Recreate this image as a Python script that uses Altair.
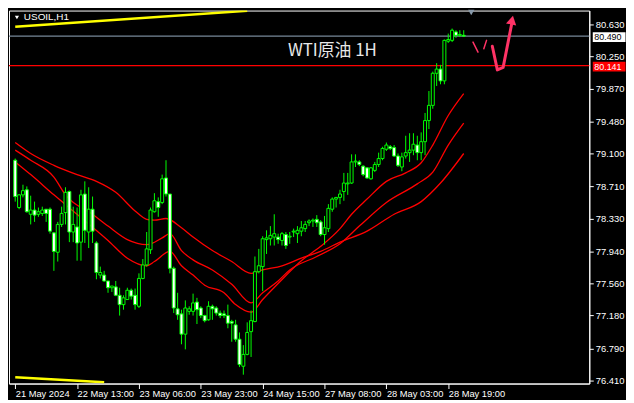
import altair as alt
import pandas as pd

# ---------------- data ----------------
OPEN = [79.02,78.46,78.61,78.67,78.38,78.43,78.38,78.39,78.44,78.44,
        78.16,77.93,78.26,78.40,78.65,78.17,78.23,78.05,78.62,78.17,
        78.44,78.04,77.66,77.66,77.59,77.51,77.52,77.42,77.31,77.37,
        77.48,77.42,77.29,77.62,77.78,77.96,78.41,78.53,78.52,78.81,
        78.62,77.74,77.26,77.20,76.96,77.23,77.23,77.34,77.27,77.18,
        77.13,77.29,77.27,77.21,77.20,77.18,77.11,77.07,76.90,76.58,
        76.72,76.99,77.11,77.70,77.76,78.08,78.09,78.11,78.11,78.07,
        78.14,78.11,78.17,78.15,78.18,78.21,78.28,78.30,78.32,78.29,
        78.14,78.21,78.44,78.56,78.58,78.65,78.74,78.75,79.00,79.00,
        78.95,78.93,78.80,78.90,78.97,79.04,79.15,79.18,79.17,79.07,
        78.94,79.07,79.11,79.14,79.20,79.11,79.24,79.49,79.67,80.05,
        80.10,79.96,80.43,80.44,80.54,80.50,80.50]
CLOSE = [78.59,78.61,78.66,78.41,78.43,78.37,78.41,78.43,78.39,78.18,
         77.94,78.26,78.39,78.64,78.17,78.26,78.04,78.61,78.19,78.44,
         78.18,77.69,77.69,77.59,77.51,77.53,77.42,77.31,77.39,77.48,
         77.41,77.31,77.62,77.78,77.97,78.43,78.54,78.46,78.80,78.62,
         77.74,77.27,77.19,76.96,77.27,77.26,77.33,77.25,77.18,77.12,
         77.29,77.26,77.21,77.18,77.18,77.09,77.09,76.90,76.60,76.72,
         76.98,77.12,77.70,77.77,78.09,78.10,78.13,78.15,78.08,78.15,
         78.01,78.12,78.18,78.19,78.22,78.26,78.30,78.31,78.28,78.14,
         78.22,78.45,78.56,78.58,78.62,78.75,78.75,79.00,79.01,78.97,
         78.85,78.81,78.93,78.97,79.04,79.16,79.20,79.16,79.07,78.96,
         79.06,79.11,79.14,79.21,79.11,79.24,79.49,79.67,80.05,80.10,
         79.96,80.44,80.45,80.56,80.50,80.51,80.49]
HIGH = [79.04,78.62,78.73,78.71,78.60,78.53,78.46,78.47,78.44,78.46,
        78.17,78.29,78.47,78.70,78.66,78.47,78.46,78.67,78.77,78.70,
        78.59,78.06,77.76,77.71,77.59,77.53,77.59,77.51,77.42,77.51,
        77.50,77.50,77.68,77.85,78.17,78.46,78.63,78.58,78.85,79.02,
        78.62,77.76,77.45,77.25,77.36,77.29,77.44,77.39,77.29,77.19,
        77.35,77.31,77.29,77.24,77.24,77.31,77.13,77.13,76.98,76.83,
        77.10,77.24,77.88,77.97,78.12,78.19,78.24,78.38,78.15,78.17,
        78.17,78.17,78.21,78.24,78.30,78.30,78.32,78.33,78.37,78.31,
        78.36,78.50,78.58,78.58,78.67,78.87,78.87,79.09,79.09,79.02,
        78.96,78.94,78.94,79.00,79.11,79.18,79.23,79.20,79.20,79.10,
        79.11,79.31,79.34,79.34,79.31,79.35,79.58,79.84,80.07,80.17,
        80.15,80.45,80.52,80.58,80.56,80.56,80.56]
LOW = [78.53,78.44,78.58,78.40,78.26,78.29,78.35,78.36,78.29,78.15,
       77.71,77.82,78.23,78.26,78.05,78.05,77.83,77.83,78.04,77.98,
       78.04,77.61,77.62,77.58,77.45,77.46,77.41,77.18,77.25,77.37,
       77.37,77.25,77.27,77.61,77.76,77.91,78.40,78.35,78.50,78.59,
       77.68,77.21,77.13,76.84,76.78,77.19,77.18,77.08,77.15,77.10,
       77.12,77.13,77.18,77.15,77.15,77.03,76.87,76.87,76.57,76.48,
       76.71,76.69,77.10,77.68,77.47,77.91,78.01,78.01,78.03,78.01,
       77.97,78.03,78.11,78.04,78.12,78.17,78.24,78.23,78.23,78.12,
       78.02,78.17,78.41,78.46,78.50,78.54,78.61,78.74,78.94,78.95,
       78.83,78.80,78.79,78.88,78.94,79.02,79.13,79.14,79.06,78.94,
       78.89,79.04,79.00,79.08,79.02,79.02,79.08,79.39,79.63,79.90,
       79.92,79.92,80.41,80.42,80.47,80.48,80.48]

TIME_TICKS = [0, 16, 32, 48, 64, 80, 96, 112]
TIME_LABELS = ["21 May 2024", "22 May 13:00", "23 May 06:00", "23 May 23:00",
               "24 May 15:00", "27 May 08:00", "28 May 03:00", "28 May 19:00"]
PRICE_TICKS = [80.63, 80.25, 79.87, 79.48, 79.10, 78.71, 78.33, 77.94,
               77.56, 77.18, 76.79, 76.41]

MA_SLOW_IDX = [0,4,10,16,21,26,31,34,36,39,43,46,51,56,61,64,69,74,79,84,91,98,105,110,116]
MA_SLOW = [79.23,79.10,78.96,78.85,78.77,78.64,78.42,78.32,78.31,78.33,78.22,78.11,77.95,
           77.82,77.68,77.72,77.77,77.86,77.94,78.05,78.18,78.38,78.53,78.75,79.10]
MA_MID_IDX = [0,4,10,13,20,24,29,34,38,40,43,46,51,56,61,64,68,71,78,84,89,96,104,108,112,116]
MA_MID = [79.14,79.02,78.82,78.61,78.38,78.24,78.08,78.02,78.10,78.15,77.95,77.84,77.72,
          77.55,77.33,77.45,77.59,77.72,77.88,78.03,78.24,78.52,78.74,78.88,79.20,79.46]
MA_FAST_IDX = [0,4,10,16,24,29,34,36,40,43,46,49,54,57,61,64,68,74,79,84,87,91,96,101,105,108,112,116]
MA_FAST = [79.00,78.85,78.61,78.38,78.07,77.86,77.77,77.82,77.94,77.77,77.66,77.54,77.45,
           77.31,77.22,77.37,77.56,77.83,78.00,78.21,78.38,78.56,78.77,78.87,78.99,79.20,79.55,79.81]

BID = 80.49
LEVEL = 80.141
BOX_PRICE = [80.49, 80.141]
BOX_TEXT = ["80.490", "80.141"]
BOX_FILL = ["#ffffff", "#ff0000"]
BOX_INK = ["#000000", "#ffffff"]

YELLOW_TOP_IDX = [0, 60]
YELLOW_TOP = [80.60, 80.79]
YELLOW_BOT_IDX = [0, 23]
YELLOW_BOT = [76.45, 76.39]

ARROW_SEG = [1, 1, 2, 2, 3, 3, 3, 3]
ARROW_IDX = [118.4, 119.7, 121.9, 121.2, 123.4, 124.7, 126.2, 128.6]
ARROW_PRICE = [80.42, 80.30, 80.44, 80.34, 80.37, 80.09, 80.12, 80.68]
ARROW_WIDTH = [1.5, 1.5, 1.5, 1.5, 3, 3, 3, 3]
ARROW_HEAD = (128.5, 80.68)

TITLE = "WTI原油 1H"
SYMBOL = "USOIL,H1"

# ---------------- chart ----------------
W, H = 585, 376
FONT = "Liberation Sans"
xs = alt.Scale(domain=[-0.33, 147.2], nice=False, zero=False)
ys = alt.Scale(domain=[76.375, 80.793], nice=False, zero=False)

lab_arr = "[" + ",".join("'%s'" % s for s in TIME_LABELS) + "]"
tick_arr = "[" + ",".join(str(t) for t in TIME_TICKS) + "]"
xaxis = alt.Axis(values=TIME_TICKS, labelExpr=f"{lab_arr}[indexof({tick_arr}, datum.value)]",
                 title=None, grid=False, tickSize=5, labelAlign="left", labelBaseline="top",
                 labelPadding=1, labelFlush=False, labelOverlap=False, labelBound=False,
                 domainColor="white", tickColor="white", labelColor="white",
                 labelFont=FONT, labelFontSize=9.4)
yaxis = alt.Axis(values=PRICE_TICKS, format=".3f", orient="right", title=None, grid=False,
                 tickSize=4, labelPadding=2, labelOverlap=False, labelFlush=False,
                 domainColor="white", tickColor="white", labelColor="white",
                 labelFont=FONT, labelFontSize=9.5)


def X(f):
    return alt.X(f, type="quantitative", scale=xs, axis=xaxis)


def Y(f):
    return alt.Y(f, type="quantitative", scale=ys, axis=yaxis)


candles = pd.DataFrame({"idx": list(range(len(OPEN))), "o": OPEN, "h": HIGH,
                        "l": LOW, "c": CLOSE})
candles["fill"] = ["#000000" if c >= o else "#ffffff" for o, c in zip(OPEN, CLOSE)]

ma = pd.concat([
    pd.DataFrame({"idx": MA_SLOW_IDX, "p": MA_SLOW, "k": "slow"}),
    pd.DataFrame({"idx": MA_MID_IDX, "p": MA_MID, "k": "mid"}),
    pd.DataFrame({"idx": MA_FAST_IDX, "p": MA_FAST, "k": "fast"}),
])
yellow = pd.concat([
    pd.DataFrame({"idx": YELLOW_TOP_IDX, "p": YELLOW_TOP, "k": "top"}),
    pd.DataFrame({"idx": YELLOW_BOT_IDX, "p": YELLOW_BOT, "k": "bot"}),
])
levels = pd.DataFrame({"p": [BID, LEVEL], "col": ["#778899", "#ff0000"]})
boxes = pd.DataFrame({"p": BOX_PRICE, "t": BOX_TEXT, "fill": BOX_FILL, "ink": BOX_INK})
arrow = pd.DataFrame({"seg": ARROW_SEG, "idx": ARROW_IDX, "p": ARROW_PRICE,
                      "w": ARROW_WIDTH, "ord": list(range(len(ARROW_SEG)))})
head = pd.DataFrame({"idx": [ARROW_HEAD[0]], "p": [ARROW_HEAD[1]]})

base_c = alt.Chart(candles)
wicks = base_c.mark_rule(color="#00ff00", strokeWidth=1).encode(x=X("idx"), y=Y("l"), y2="h")
bodies = base_c.mark_bar(width=3, stroke="#00ff00", strokeWidth=1).encode(
    x=X("idx"), y=Y("o"), y2="c", fill=alt.Fill("fill:N", scale=None))

ma_lines = alt.Chart(ma).mark_line(color="#ff0000", strokeWidth=1.3, interpolate="monotone",
                                   clip=True).encode(x=X("idx"), y=Y("p"), detail="k:N")
yl = alt.Chart(yellow).mark_line(color="#ffff00", strokeWidth=2.5, clip=True).encode(
    x=X("idx"), y=Y("p"), detail="k:N")
lv = alt.Chart(levels).mark_rule(strokeWidth=1.3).encode(
    y=Y("p"), color=alt.Color("col:N", scale=None))

box_bg = alt.Chart(boxes).mark_tick(orient="horizontal", size=33, thickness=10, opacity=1,
                                    yOffset=1).encode(
    x=alt.value(W + 20), y=Y("p"), color=alt.Color("fill:N", scale=None))
box_tx = alt.Chart(boxes).mark_text(align="left", baseline="middle", font=FONT, fontSize=9,
                                    dy=1).encode(
    x=alt.value(W + 5), y=Y("p"), text="t:N", color=alt.Color("ink:N", scale=None))

arr = alt.Chart(arrow).mark_line(color="#ff3366", strokeCap="round",
                                 strokeJoin="round").encode(
    x=X("idx"), y=Y("p"), detail="seg:N", order="ord:Q",
    strokeWidth=alt.StrokeWidth("w:Q", scale=None))
arr_head = alt.Chart(head).mark_point(shape="triangle-up", filled=True, color="#ff3366",
                                      size=110, angle=12, opacity=1).encode(x=X("idx"), y=Y("p"))

title = alt.Chart(pd.DataFrame({"t": [TITLE]})).mark_text(
    font="Noto Sans CJK SC", fontSize=17, color="#e8e8e8", align="center", baseline="middle").encode(
    x=alt.value(326), y=alt.value(41), text="t:N")
sym = alt.Chart(pd.DataFrame({"t": [SYMBOL]})).mark_text(
    font=FONT, fontSize=10, color="white", align="left", baseline="middle").encode(
    x=alt.value(15), y=alt.value(7), text="t:N")
sym_tri = alt.Chart(pd.DataFrame({"t": [SYMBOL]})).mark_point(
    shape="triangle-down", filled=True, color="white", size=18, opacity=1).encode(
    x=alt.value(8), y=alt.value(7))
shift_tri = alt.Chart(pd.DataFrame({"t": ["shift"]})).mark_point(
    shape="triangle-down", filled=True, color="#8899aa", size=40, opacity=1).encode(
    x=alt.value(466), y=alt.value(2))

chart = alt.layer(ma_lines, yl, lv, wicks, bodies, arr, arr_head, box_bg, box_tx,
                  title, sym, sym_tri, shift_tri).properties(
    width=W, height=H, background="black", padding=0
).configure_view(stroke="white", strokeWidth=1, fill="black")

chart.save("out.html", embed_options={"renderer": "svg", "actions": False})
